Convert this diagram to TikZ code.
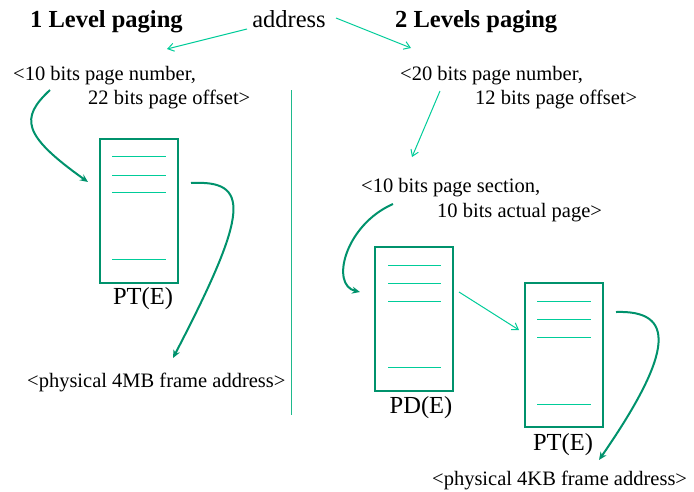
\documentclass[tikz,border=0pt]{standalone}
\usepackage{fontspec}
\setmainfont{Liberation Serif}
\usetikzlibrary{arrows.meta}
\definecolor{dkgreen}{RGB}{0,146,108}
\definecolor{brgreen}{RGB}{0,204,153}
\definecolor{divgreen}{RGB}{30,185,140}
\tikzset{
  txt/.style={anchor=base west, inner sep=0pt, font=\fontsize{20.5}{24}\selectfont},
  big/.style={anchor=base, inner sep=0pt, font=\fontsize{24.5}{28}\selectfont},
  title/.style={anchor=base west, inner sep=0pt, font=\fontsize{24.5}{28}\selectfont\bfseries},
  tablebox/.style={draw=dkgreen, line width=2.6pt},
  entry/.style={draw=brgreen, line width=0.9pt},
  thinarrow/.style={draw=brgreen, line width=1pt, -{Straight Barb[length=6pt,width=8pt]}},
  thickarrow/.style={draw=dkgreen, line width=2pt, -{Stealth[length=8pt,width=7pt]}},
}
\begin{document}
\begin{tikzpicture}[x=1pt,y=-1pt]
\useasboundingbox (0,0) rectangle (694,491);
% titles
\node[title] (t1) at (30,27) {1 Level paging};
\node[title] (t2) at (395,27) {2 Levels paging};
\node[big] (addr) at (289,27) {address};
% left texts
\node[txt] (l1) at (13,80) {<10 bits page number,};
\node[txt] (l2) at (88,104) {22 bits page offset>};
\node[txt] (lphys) at (27,387) {<physical 4MB frame address>};
% right texts
\node[txt] (r1) at (400,80) {<20 bits page number,};
\node[txt] (r2) at (475,104) {12 bits page offset>};
\node[txt] (r3) at (361,192) {<10 bits page section,};
\node[txt] (r4) at (437,217) {10 bits actual page>};
\node[txt] (rphys) at (432,485) {<physical 4KB frame address>};
% divider
\coordinate (d1) at (291,90);
\coordinate (d2) at (291,415);
\draw[divgreen, line width=1pt] (d1) -- (d2);
% left PT
\node[tablebox, minimum width=78pt, minimum height=144pt, inner sep=0pt] (lpt) at (139,211) {};
\foreach \y in {156,175,192,259} \draw[entry] (112,\y) -- (166,\y);
\node[big] (lptl) at (143,304) {PT(E)};
% PD
\node[tablebox, minimum width=78pt, minimum height=144pt, inner sep=0pt] (pd) at (414,319) {};
\foreach \y in {265,283,301,367} \draw[entry] (388,\y) -- (441,\y);
\node[big] (pdl) at (421,413) {PD(E)};
% right PT
\node[tablebox, minimum width=78pt, minimum height=144pt, inner sep=0pt] (rpt) at (564,355) {};
\foreach \y in {301,319,337,404} \draw[entry] (537,\y) -- (591,\y);
\node[big] (rptl) at (563,450) {PT(E)};
% connector end points
\coordinate (a1s) at (247,29);
\coordinate (a1e) at (167,49);
\coordinate (a2s) at (336,18);
\coordinate (a2e) at (411,48);
\coordinate (c1s) at (50,90);
\coordinate (c1e) at (88,182);
\coordinate (c2s) at (191,183);
\coordinate (c2e) at (173,358);
\coordinate (a3s) at (440,91);
\coordinate (a3e) at (412,157);
\coordinate (c3s) at (393,204);
\coordinate (c3e) at (360,292);
\coordinate (a4s) at (459,292);
\coordinate (a4e) at (519,330);
\coordinate (c4s) at (616,312);
\coordinate (c4e) at (599,460);
% arrows
\draw[thinarrow] (a1s) -- (a1e);
\draw[thinarrow] (a2s) -- (a2e);
\draw[thinarrow] (a3s) -- (a3e);
\draw[thinarrow] (a4s) -- (a4e);
\draw[thickarrow] (c1s) .. controls (20,118) and (22,135) .. (c1e);
\draw[thickarrow] (c2s) .. controls (250,180) and (250,210) .. (c2e);
\draw[thickarrow] (c3s) .. controls (345,225) and (330,285) .. (c3e);
\draw[thickarrow] (c4s) .. controls (675,310) and (675,350) .. (c4e);
\end{tikzpicture}
\end{document}
